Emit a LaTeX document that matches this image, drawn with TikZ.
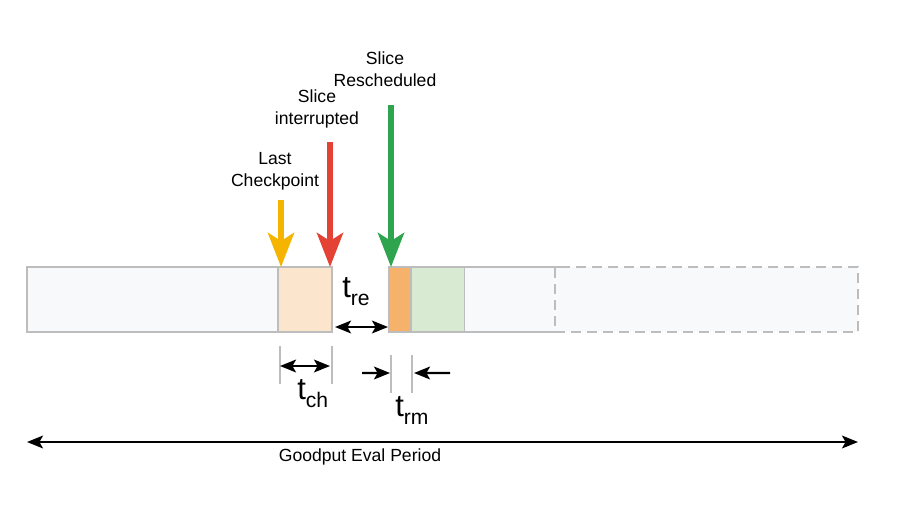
\documentclass[tikz,border=0pt]{standalone}
\usepackage{fontspec}
\setmainfont{Liberation Sans}
\usepackage{xcolor}
\usetikzlibrary{arrows.meta,positioning,calc}
\definecolor{barline}{HTML}{BDBDBD}
\definecolor{idlefill}{HTML}{F8F9FA}
\definecolor{ckptfill}{HTML}{FCE5CD}
\definecolor{restorefill}{HTML}{F6B26B}
\definecolor{recompfill}{HTML}{D9EAD3}
\definecolor{ylw}{HTML}{F4B400}
\definecolor{rd}{HTML}{E34234}
\definecolor{grn}{HTML}{2EA44F}
\newcommand{\tlab}[1]{{\fontsize{22}{22}\selectfont t}\raisebox{-2mm}{\fontsize{15}{15}\selectfont #1}}
\tikzset{
  slot/.style={draw=barline, line width=0.6mm, inner sep=0pt, outer sep=0pt,
               anchor=north west, minimum height=16.25mm},
  idle/.style={slot, fill=idlefill},
  ckpt/.style={slot, fill=ckptfill},
  restore/.style={slot, fill=restorefill},
  recomp/.style={slot, fill=recompfill},
  future/.style={slot, fill=idlefill, dash pattern=on 2.5mm off 1.5mm},
  event/.style={-{Stealth[length=8.5mm,width=6.5mm,inset=2mm]}, line width=1.5mm},
  span/.style={{Stealth[length=4mm,width=3.2mm,inset=0.9mm]}-{Stealth[length=4mm,width=3.2mm,inset=0.9mm]}, line width=0.55mm},
  oneway/.style={-{Stealth[length=4mm,width=3.2mm,inset=0.9mm]}, line width=0.55mm},
  tick/.style={draw=barline, line width=0.5mm},
  lbl/.style={font=\fontsize{12.5}{15.5}\selectfont, align=center, inner sep=0pt}
}
\begin{document}
\begin{tikzpicture}[x=0.25mm, y=-0.25mm]
  \useasboundingbox (0,0) rectangle (921,517);
  % the slice timeline
  \node[idle, minimum width=62.75mm] (pre) at (27,267) {};
  \node[ckpt, minimum width=13.5mm, right=0pt of pre] (ck) {};
  \node[restore, minimum width=5.5mm] (rs) at (389,267) {};
  \node[recomp, minimum width=13.5mm, right=0pt of rs] (rc) {};
  \node[idle, draw=none, minimum width=22.5mm, right=0pt of rc] (post) {};
  \node[future, minimum width=75.75mm, right=0pt of post] (fut) {};
  \draw[barline, line width=0.6mm] (post.north west) -- ($(post.north east)+(8,0)$);
  \draw[barline, line width=0.6mm] (post.south west) -- ($(post.south east)+(8,0)$);
  % event labels and arrows
  \node[lbl] (lastcp) at (275,171) {Last\\Checkpoint};
  \node[lbl] (intr) at (317,109) {Slice\\interrupted};
  \node[lbl] (resch) at (385,69) {Slice\\Rescheduled};
  \coordinate (lcTail) at (281,200);
  \coordinate (irTail) at (330,142);
  \coordinate (rsTail) at (391,105);
  \draw[event, ylw] (lcTail) -- (lcTail |- ck.north);
  \draw[event, rd] (irTail) -- (irTail |- ck.north);
  \draw[event, grn] (rsTail) -- (rsTail |- rs.north);
  % t_re
  \draw[span] ($(ck.south east)+(3,-5)$) -- ($(rs.south west)+(-1,-5)$);
  \node[inner sep=0pt, anchor=base west] (tre) at (342,297) {\tlab{re}};
  % t_ch
  \coordinate (chL) at ($(ck.south west)+(2,14)$);
  \coordinate (chR) at ($(ck.south east)+(0,14)$);
  \draw[tick] (chL) -- ++(0,38);
  \draw[tick] (chR) -- ++(0,38);
  \draw[span] ($(chL)+(0,20)$) -- ($(chR)+(-2,20)$);
  \node[inner sep=0pt, anchor=base west] (tch) at (297,399) {\tlab{ch}};
  % t_rm
  \coordinate (rmL) at ($(rs.south west)+(2,23)$);
  \coordinate (rmR) at ($(rs.south east)+(1,23)$);
  \draw[tick] (rmL) -- ++(0,38);
  \draw[tick] (rmR) -- ++(0,38);
  \coordinate (rmInL) at (362,373);
  \coordinate (rmInR) at (450,373);
  \draw[oneway] (rmInL) -- ($(rmL)+(-1,18)$);
  \draw[oneway] (rmInR) -- ($(rmR)+(2,18)$);
  \node[inner sep=0pt, anchor=base west] (trm) at (395,416) {\tlab{rm}};
  % evaluation period
  \coordinate (gpL) at (27,442);
  \coordinate (gpR) at (858,442);
  \draw[span] (gpL) -- (gpR);
  \node[lbl] (gp) at (360,457) {Goodput Eval Period};
\end{tikzpicture}
\end{document}
